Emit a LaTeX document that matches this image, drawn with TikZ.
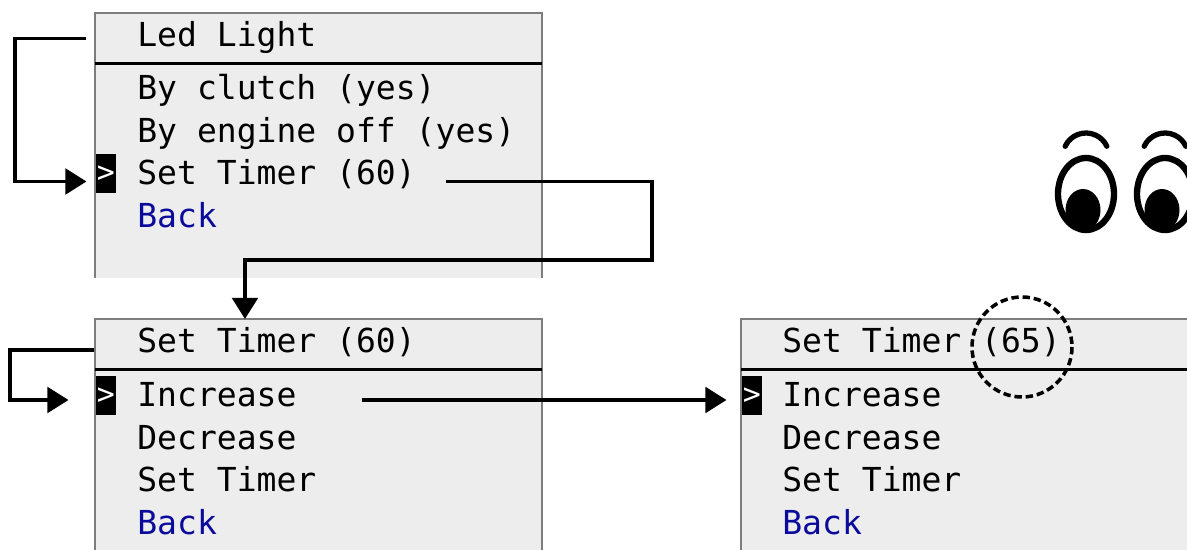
\documentclass[tikz,border=0pt]{standalone}
\usepackage{fontspec}
\newfontfamily\lcdfont{DejaVu Sans Mono}
\usetikzlibrary{arrows.meta}
\definecolor{lcdgray}{RGB}{237,237,237}
\definecolor{framegray}{RGB}{125,125,125}
\definecolor{backblue}{RGB}{10,10,155}
\tikzset{
        screen/.style={anchor=north west, fill=lcdgray, inner sep=0pt, outer sep=0pt, minimum width=8.94cm},
        frame/.style={draw=framegray, line width=0.8pt},
        rule/.style={draw=black, line width=1.6pt},
        entry/.style={anchor=base west, inner sep=0pt, text height=0.5cm, text depth=0.16cm, font=\lcdfont\fontsize{18.8}{22}\selectfont},
        backentry/.style={entry, text=backblue},
        cursor/.style={anchor=north west, fill=black, text=white, inner sep=0pt, minimum width=0.4cm, minimum height=0.78cm, font=\lcdfont\fontsize{17}{17}\selectfont},
        link/.style={line width=2.1pt, -{Triangle[length=12pt,width=14.5pt]}},
        ring/.style={line width=2pt, dash pattern=on 4.2pt off 2.2pt},
        eyeline/.style={line width=3.6pt},
        brow/.style={line width=3pt, line cap=round}
          }
\begin{document}
\begin{tikzpicture}[x=0.02cm, y=-0.02cm]
        \useasboundingbox (0,0) rectangle (1187,550);
        \clip (0,0) rectangle (1187,550);

        % the three screens
        \node[screen, minimum height=5.3cm] (led) at (95,13) {};
        \node[screen, minimum height=5cm] (timer) at (95,319) {};
        \node[screen, minimum height=5cm] (timer2) at (741,319) {};
        \foreach \s in {led,timer,timer2}{
          \draw[frame] (\s.south west) -- (\s.north west) -- (\s.north east) -- (\s.south east);
          \draw[rule] ([yshift=-1.01cm]\s.north west) -- ([yshift=-1.01cm]\s.north east);
        }

        % led light menu
        \node[entry] (ledTitle) at (137,47) {Led Light};
        \node[entry] (clutch) at (137,100) {By clutch (yes)};
        \node[entry] (engine) at (137,142.5) {By engine off (yes)};
        \node[entry] (setTimer) at (137,185) {Set Timer (60)};
        \node[backentry] (ledBack) at (137,227.5) {Back};
        \node[cursor] (cursorLed) at (95.5,154) {>};

        % timer menu
        \node[entry] (timerTitle) at (137,353) {Set Timer (60)};
        \node[entry] (inc) at (137,407) {Increase};
        \node[entry] (dec) at (137,449.5) {Decrease};
        \node[entry] (set) at (137,492) {Set Timer};
        \node[backentry] (timerBack) at (137,534) {Back};
        \node[cursor] (cursorTimer) at (95.5,376) {>};

        % timer menu after increase
        \node[entry] (timer2Title) at (782,353) {Set Timer (65)};
        \node[entry] (inc2) at (782,407) {Increase};
        \node[entry] (dec2) at (782,449.5) {Decrease};
        \node[entry] (set2) at (782,492) {Set Timer};
        \node[backentry] (timer2Back) at (782,534) {Back};
        \node[cursor] (cursorTimer2) at (741.5,376) {>};

        % connectors
        \draw[link] ([xshift=-0.18cm]led.west |- ledTitle.west) -- ++(-71,0)
          |- ([xshift=-0.18cm,yshift=-0.1cm]cursorLed.west |- setTimer.west);
        \draw[link] ([xshift=0.6cm,yshift=-0.1cm]setTimer.east)
          -| ([xshift=2.2cm,yshift=0.36cm]led.south east)
          -| ([xshift=3cm]timer.north west);
        \draw[link] ([xshift=-0.02cm,yshift=-0.11cm]timer.west |- timerTitle.west) -- ++(-84,0)
          |- ([xshift=-0.54cm,yshift=-0.03cm]cursorTimer.west |- inc.west);
        \draw[link] ([xshift=1.3cm,yshift=-0.03cm]inc.east)
          -- ([xshift=-0.3cm,yshift=-0.03cm]cursorTimer2.west |- inc.east);

        % new value marked
        \draw[ring] (1022,347) circle [radius=50];

        % eyes
        \foreach \ex in {0,79}{
          \draw[eyeline] (1086+\ex,194) ellipse [x radius=28, y radius=36];
          \fill (1083+\ex,210) ellipse [x radius=17.5, y radius=21];
          \draw[brow] (1086+\ex,156) ++(205:23) arc [start angle=205, end angle=335, radius=23];
        }
      \end{tikzpicture}
\end{document}
